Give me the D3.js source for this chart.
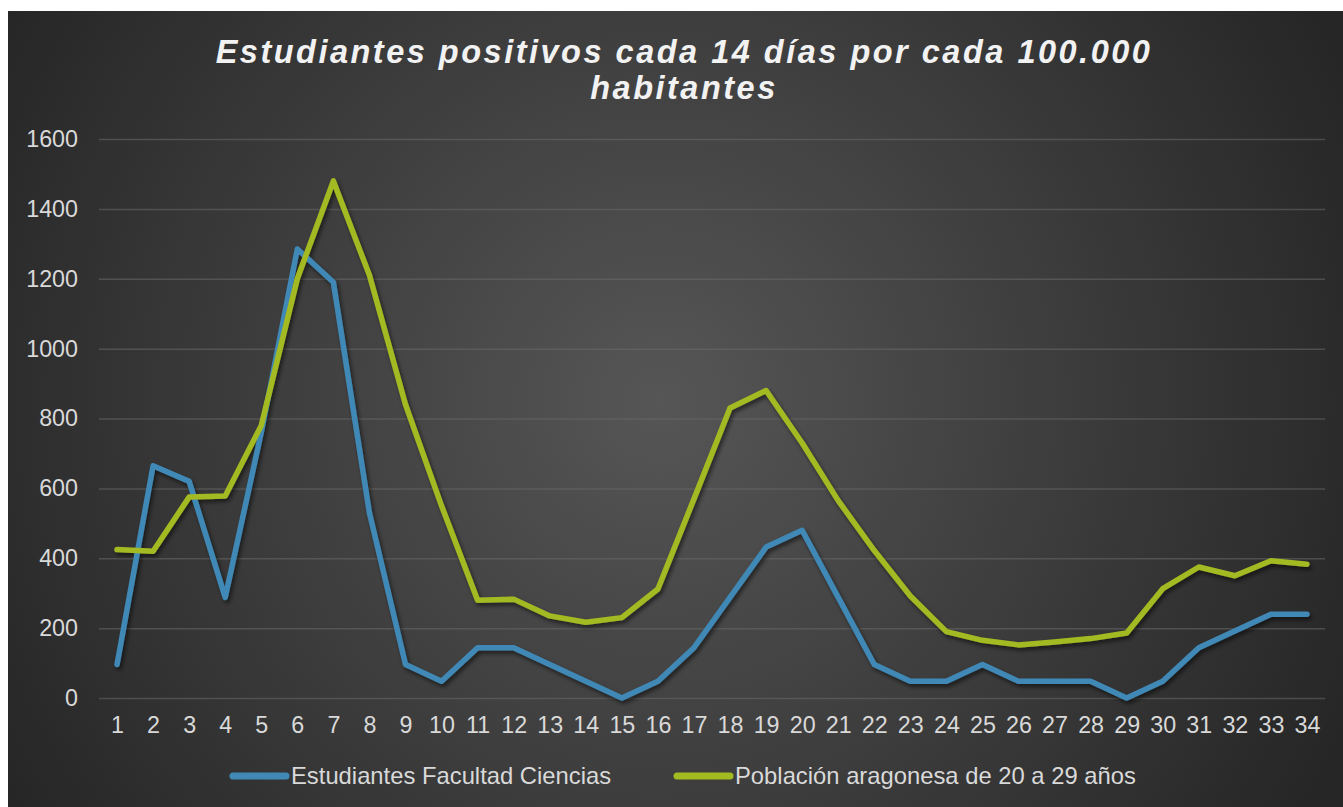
<!DOCTYPE html>
<html>
<head>
<meta charset="utf-8">
<script src="https://cdn.jsdelivr.net/npm/d3@7"></script>
<style>
  body { margin: 0; background: #fff; }
  svg { display: block; }
</style>
</head>
<body>
<div id="chart"></div>
<script>
// Data
const weeks = d3.range(1, 35).map(String);
const estudiantes = [96, 665, 620, 288, 760, 1285, 1190, 530, 96, 48, 144, 144, 96, 48, 0, 48, 144, 288, 432, 480,
  288, 96, 48, 48, 96, 48, 48, 48, 0, 48, 144, 192, 240, 240];
const poblacion = [425, 420, 575, 578, 780, 1200, 1480, 1210, 840, 550, 280, 283, 235, 217, 230, 312, 570, 830, 880, 730,
  565, 422, 292, 190, 165, 152, 160, 170, 186, 313, 375, 350, 393, 383];
const yTicks = [0, 200, 400, 600, 800, 1000, 1200, 1400, 1600];
const seriesNames = ["Estudiantes Facultad Ciencias", "Población aragonesa de 20 a 29 años"];
const colors = ["#4089b6", "#a4ba21"];

// Setup
const width = 1343, height = 807;
const frame = { x: 8, y: 11 };
const margin = { top: 139, right: 18, bottom: 109, left: 99 };
const font = "Liberation Sans, Arial, sans-serif";
const labelSize = 23.3;

const svg = d3.select("#chart").append("svg")
  .attr("width", width)
  .attr("height", height);

const defs = svg.append("defs");
const grad = defs.append("radialGradient")
  .attr("id", "bg")
  .attr("gradientUnits", "userSpaceOnUse")
  .attr("cx", 660).attr("cy", 400).attr("r", 760);
grad.append("stop").attr("offset", "0%").attr("stop-color", "#565656");
grad.append("stop").attr("offset", "100%").attr("stop-color", "#262626");

const shadow = defs.append("filter").attr("id", "shadow")
  .attr("x", "-10%").attr("y", "-10%").attr("width", "120%").attr("height", "120%");
shadow.append("feDropShadow")
  .attr("dx", 2).attr("dy", 3).attr("stdDeviation", 2)
  .attr("flood-color", "#000").attr("flood-opacity", 0.55);

svg.append("rect")
  .attr("x", frame.x).attr("y", frame.y)
  .attr("width", width - frame.x).attr("height", height - frame.y)
  .attr("fill", "url(#bg)");

// Scales
const x = d3.scalePoint()
  .domain(weeks)
  .range([margin.left, width - margin.right])
  .padding(0.5);

const y = d3.scaleLinear()
  .domain([0, 1600])
  .range([height - margin.bottom, margin.top]);

// Grid
const grid = svg.append("g")
  .attr("transform", `translate(${margin.left},0)`)
  .call(d3.axisLeft(y).tickValues(yTicks).tickSize(-(width - margin.right - margin.left)).tickFormat(""));
grid.select(".domain").remove();
grid.selectAll("line").attr("stroke", "#6a6a6a").attr("stroke-opacity", 0.55).attr("stroke-width", 1.5);

// Y axis labels
const yAxis = svg.append("g")
  .attr("transform", `translate(${margin.left},0)`)
  .call(d3.axisLeft(y).tickValues(yTicks).tickSize(0).tickPadding(21).tickFormat(d3.format("d")));
yAxis.select(".domain").remove();
yAxis.selectAll("text")
  .attr("fill", "#d9d9d9")
  .attr("font-family", font)
  .attr("font-size", labelSize);

// X axis labels
const xAxis = svg.append("g")
  .attr("transform", `translate(0,${y(0)})`)
  .call(d3.axisBottom(x).tickSize(0).tickPadding(18.5));
xAxis.select(".domain").remove();
xAxis.selectAll("text")
  .attr("fill", "#d9d9d9")
  .attr("font-family", font)
  .attr("font-size", labelSize);

// Lines
const line = d3.line()
  .x((d, i) => x(weeks[i]))
  .y(d => y(d));

svg.append("g")
  .attr("filter", "url(#shadow)")
  .selectAll("path")
  .data([estudiantes, poblacion])
  .join("path")
  .attr("d", line)
  .attr("fill", "none")
  .attr("stroke", (d, i) => colors[i])
  .attr("stroke-width", 5.5)
  .attr("stroke-linejoin", "round")
  .attr("stroke-linecap", "round");

// Title
const title = svg.append("text")
  .attr("fill", "#f2f2f2")
  .attr("font-family", font)
  .attr("font-size", 32.5)
  .attr("font-weight", "bold")
  .attr("font-style", "italic")
  .attr("letter-spacing", 2.5)
  .attr("text-anchor", "middle");
title.append("tspan").attr("x", 684).attr("y", 63).text("Estudiantes positivos cada 14 días por cada 100.000");
title.append("tspan").attr("x", 684).attr("y", 99).text("habitantes");

// Legend
const legendX = [231, 675];
const legend = svg.append("g")
  .selectAll("g")
  .data(seriesNames)
  .join("g")
  .attr("transform", (d, i) => `translate(${legendX[i]},776)`);

legend.append("line")
  .attr("x1", 2).attr("x2", 55)
  .attr("stroke", (d, i) => colors[i])
  .attr("stroke-width", 7)
  .attr("stroke-linecap", "round");

legend.append("text")
  .attr("x", 60)
  .attr("dy", "0.35em")
  .attr("fill", "#d9d9d9")
  .attr("font-family", font)
  .attr("font-size", 23.8)
  .text(d => d);
</script>
</body>
</html>
